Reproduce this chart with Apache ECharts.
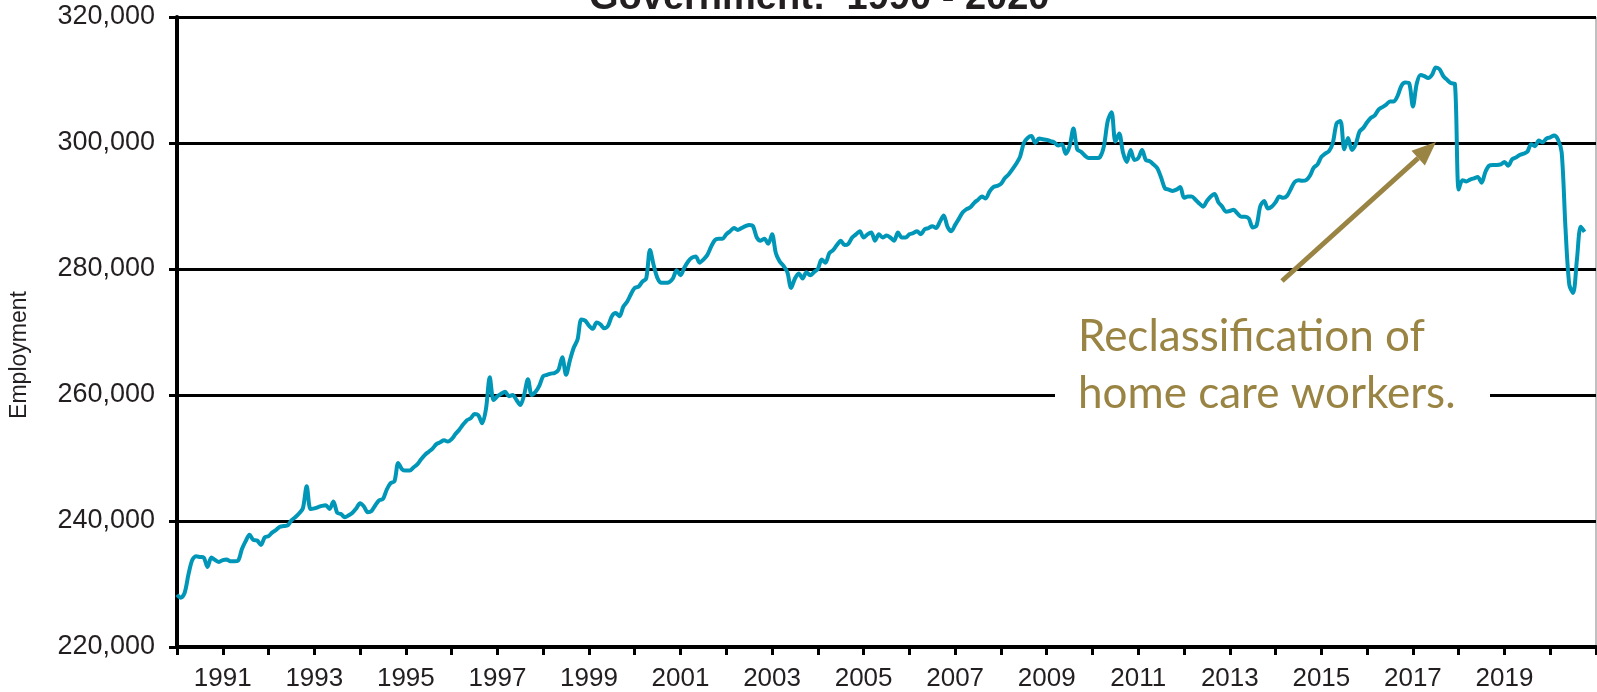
<!DOCTYPE html>
<html>
<head>
<meta charset="utf-8">
<script src="https://cdn.jsdelivr.net/npm/echarts@6/dist/echarts.min.js"></script>
<style>
  html, body { margin: 0; padding: 0; background: #fff; }
  #chart { width: 1597px; height: 692px; }
</style>
</head>
<body>
<div id="chart"></div>
<script>
  // monthly categories Jan 1990 .. Jan 2021 (axis ends at Jan 2021)
  const months = [];
  for (let y = 1990; y <= 2021; y++) {
    for (let m = 1; m <= 12; m++) {
      if (y === 2021 && m > 1) break;
      months.push(y + '-' + (m < 10 ? '0' + m : m));
    }
  }
  const labelYears = ['1991','1993','1995','1997','1999','2001','2003','2005','2007','2009','2011','2013','2015','2017','2019'];

  // government employment, thousands, one row per year (Jan..Dec)
  const employment = [
    228.3, 227.8, 228.6, 231.5, 233.8, 234.4, 234.3, 234.2, 232.7, 234.2, 233.8, 233.5, // 1990
    233.8, 233.9, 233.6, 233.6, 233.7, 235.5, 236.8, 237.8, 237.0, 236.9, 236.2, 237.4, // 1991
    237.6, 238.2, 238.6, 239.1, 239.2, 239.3, 240.1, 240.6, 241.2, 242.0, 245.5, 241.9, // 1992
    242.0, 242.2, 242.4, 242.5, 241.9, 243.1, 241.3, 241.1, 240.6, 240.9, 241.3, 242.0, // 1993
    242.8, 242.3, 241.4, 241.6, 242.5, 243.3, 243.5, 245.0, 246.0, 246.3, 249.2, 248.2, // 1994
    248.0, 248.0, 248.5, 249.0, 249.8, 250.5, 251.0, 251.5, 252.2, 252.5, 252.8, 252.6, // 1995
    253.0, 253.8, 254.5, 255.3, 256.0, 256.3, 257.0, 256.8, 255.5, 257.8, 262.8, 259.2, // 1996
    259.8, 260.2, 260.5, 259.8, 260.0, 259.2, 258.4, 260.0, 262.5, 260.0, 260.5, 261.5, // 1997
    263.0, 263.2, 263.4, 263.5, 264.0, 266.0, 263.2, 265.5, 267.5, 268.8, 272.0, 271.8, // 1998
    271.0, 270.5, 271.5, 271.2, 270.6, 271.0, 272.5, 273.0, 272.5, 274.0, 274.8, 276.0, // 1999
    277.0, 277.2, 278.0, 278.5, 283.0, 280.5, 278.5, 277.8, 277.8, 277.9, 278.5, 279.8, // 2000
    279.0, 280.2, 281.2, 281.8, 282.0, 281.0, 281.5, 282.2, 283.5, 284.6, 284.8, 284.8, // 2001
    285.5, 286.0, 286.5, 286.2, 286.5, 286.8, 287.0, 286.8, 285.0, 284.5, 284.8, 284.0, // 2002
    285.5, 282.5, 281.2, 280.5, 279.5, 277.0, 278.5, 279.3, 278.5, 279.5, 279.0, 279.5, // 2003
    280.0, 281.5, 281.0, 282.5, 283.0, 283.8, 284.5, 283.8, 284.0, 285.0, 285.5, 286.0, // 2004
    285.0, 285.5, 285.8, 284.5, 285.5, 285.0, 285.3, 285.0, 284.5, 285.8, 285.0, 285.0, // 2005
    285.5, 285.7, 286.0, 285.5, 286.3, 286.5, 286.8, 286.5, 287.5, 288.5, 286.7, 286.0, // 2006
    287.0, 288.0, 289.0, 289.5, 289.8, 290.5, 291.0, 291.5, 291.2, 292.3, 293.0, 293.2, // 2007
    293.5, 294.4, 295.0, 295.8, 296.7, 297.8, 300.0, 300.8, 301.1, 300.0, 300.7, 300.6, // 2008
    300.5, 300.3, 300.1, 299.6, 299.8, 298.3, 299.5, 302.3, 299.0, 298.6, 298.0, 297.6, // 2009
    297.6, 297.6, 297.8, 299.5, 303.5, 304.9, 300.2, 301.5, 298.5, 297.0, 298.9, 297.3, // 2010
    297.6, 298.9, 297.3, 297.1, 296.6, 296.0, 294.5, 292.8, 292.6, 292.4, 292.6, 293.0, // 2011
    291.3, 291.5, 291.5, 291.0, 290.4, 289.9, 290.8, 291.5, 291.9, 290.6, 289.9, 289.1, // 2012
    289.2, 289.4, 288.8, 288.3, 288.3, 288.0, 286.6, 286.9, 290.0, 290.8, 289.6, 289.9, // 2013
    290.6, 291.5, 291.3, 291.6, 292.7, 293.8, 294.1, 294.0, 294.1, 294.8, 296.1, 296.6, // 2014
    297.8, 298.3, 298.7, 300.0, 303.1, 303.5, 299.0, 300.8, 298.9, 299.8, 301.8, 302.4, // 2015
    303.3, 304.0, 304.4, 305.3, 305.7, 306.1, 306.6, 306.6, 307.5, 309.1, 309.6, 309.5, // 2016
    305.8, 309.4, 310.8, 310.6, 310.3, 310.8, 312.0, 311.7, 310.6, 310.0, 309.5, 309.4, // 2017
    292.6, 294.1, 293.9, 294.2, 294.4, 294.6, 293.7, 295.4, 296.4, 296.5, 296.5, 296.6, // 2018
    297.0, 296.4, 297.4, 297.7, 298.1, 298.3, 298.6, 299.8, 299.5, 300.4, 300.1, 300.7, // 2019
    300.9, 301.2, 300.6, 298.5, 286.5, 277.5, 276.2, 281.5, 286.7, 285.9                // 2020
  ];

  const noteColor = '#9a8443';
  const textColor = '#231f20';

  // arrow for the annotation (pixel positions of the callout)
  const arrowFrom = [1282, 281], arrowTo = [1436, 142];
  function arrowHead(from, to, len, half) {
    let dx = to[0] - from[0], dy = to[1] - from[1];
    let d = Math.sqrt(dx * dx + dy * dy);
    let ux = dx / d, uy = dy / d;
    let bx = to[0] - ux * len, by = to[1] - uy * len;
    return [[to[0], to[1]], [bx - uy * half, by + ux * half], [bx + uy * half, by - ux * half]];
  }
  const head = arrowHead(arrowFrom, arrowTo, 24, 10);

  const chart = echarts.init(document.getElementById('chart'));
  const option = {
    animation: false,
    title: {
      text: 'Government:  1990 - 2020',
      left: 584,
      top: -25,
      textStyle: { fontFamily: 'Liberation Sans', fontSize: 38, fontWeight: 'bold', color: textColor }
    },
    grid: {
      left: 177, right: 1, top: 17, bottom: 45,
      show: true, borderColor: '#808080', borderWidth: 1, backgroundColor: 'transparent'
    },
    xAxis: {
      type: 'category',
      data: months,
      boundaryGap: false,
      axisLine: { lineStyle: { color: '#000', width: 4 } },
      axisTick: {
        length: 8,
        interval: (i, v) => v.slice(5) === '01',
        lineStyle: { color: '#000', width: 3 }
      },
      axisLabel: {
        interval: (i, v) => v.slice(5) === '01' && labelYears.indexOf(v.slice(0, 4)) >= 0,
        formatter: v => v.slice(0, 4),
        margin: 19,
        fontFamily: 'Liberation Sans', fontSize: 26, color: textColor
      },
      splitLine: { show: false }
    },
    yAxis: {
      type: 'value',
      min: 220, max: 320, interval: 20,
      name: 'Employment',
      nameLocation: 'middle',
      nameGap: 146,
      nameTextStyle: { fontFamily: 'Liberation Sans', fontSize: 23, color: textColor, padding: [0, 0, 0, -46] },
      axisLine: { show: true, lineStyle: { color: '#000', width: 4 } },
      axisTick: { show: true, length: 8, lineStyle: { color: '#000', width: 3 } },
      axisLabel: {
        formatter: v => (v * 1000).toLocaleString('en-US'),
        margin: 22,
        fontFamily: 'Liberation Sans', fontSize: 27, color: textColor
      },
      splitLine: { lineStyle: { color: '#000', width: 3 } }
    },
    series: [{
      type: 'line',
      data: employment,
      showSymbol: false,
      smooth: 0.3,
      lineStyle: { color: '#0096b7', width: 4 },
      z: 5
    }],
    graphic: [
      { type: 'rect', z: 50, shape: { x: 1055, y: 300, width: 435, height: 125 }, style: { fill: '#fff' } },
      {
        type: 'text', z: 51, x: 1078, y: 308,
        style: {
          text: 'Reclassification of\nhome care workers.',
          font: '44px Lato', lineHeight: 57,
          fill: noteColor
        }
      },
      {
        type: 'line', z: 52,
        shape: { x1: arrowFrom[0], y1: arrowFrom[1], x2: (head[1][0] + head[2][0]) / 2, y2: (head[1][1] + head[2][1]) / 2 },
        style: { stroke: noteColor, lineWidth: 5 }
      },
      { type: 'polygon', z: 52, shape: { points: head }, style: { fill: noteColor } }
    ]
  };
  chart.setOption(option);
</script>
</body>
</html>
